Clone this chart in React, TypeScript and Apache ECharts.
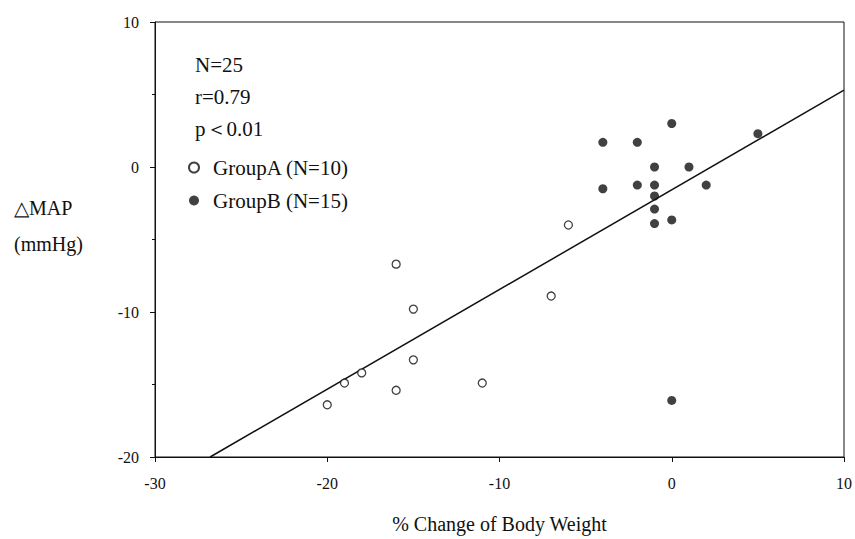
import React, { useEffect, useRef } from "react";
import * as echarts from "echarts";

const groupAX = [-16, -15, -7, -15, -18, -19, -16, -11, -20, -6];
const groupAY = [-6.7, -9.8, -8.9, -13.3, -14.2, -14.9, -15.4, -14.9, -16.4, -4.0];
const groupBX = [0, -4, -2, 5, -1, 1, -4, -2, -1, 2, -1, -1, 0, -1, 0];
const groupBY = [3.0, 1.7, 1.7, 2.3, 0, 0, -1.5, -1.25, -1.25, -1.25, -2.0, -2.9, -3.65, -3.9, -16.1];
const fitX = [-26.8, 10];
const fitY = [-20, 5.3];
const statLines = ["N=25", "r=0.79", "p＜0.01"];
const seriesNames = ["GroupA (N=10)", "GroupB (N=15)"];
const yNameLines = ["△MAP", "(mmHg)"];
const xName = "% Change of Body Weight";

const FONT = "Liberation Serif";
const INK = "#111";

export default function App() {
  const ref = useRef<HTMLDivElement>(null);
  useEffect(() => {
    if (!ref.current) return;
    const chart = echarts.init(ref.current, undefined, { renderer: "svg" });
    const zip = (xs: number[], ys: number[]) => xs.map((x, i) => [x, ys[i]]);
    chart.setOption({
      animation: false,
      backgroundColor: "#fff",
      textStyle: { fontFamily: FONT },
      grid: {
        left: 155,
        right: 9,
        top: 22,
        bottom: 77,
        show: true,
        borderColor: INK,
        borderWidth: 1,
      },
      legend: {
        orient: "vertical",
        left: 183,
        top: 152,
        itemWidth: 10,
        itemHeight: 10,
        itemGap: 12,
        icon: "circle",
        data: seriesNames,
        textStyle: { fontFamily: FONT, fontSize: 21, color: INK, padding: [0, 0, 0, 9] },
      },
      xAxis: {
        type: "value",
        min: -30,
        max: 10,
        interval: 10,
        name: xName,
        nameLocation: "middle",
        nameGap: 57,
        nameTextStyle: { fontFamily: FONT, fontSize: 20, color: INK },
        axisLine: { show: true, onZero: false, lineStyle: { color: INK, width: 1 } },
        axisTick: { show: true, inside: false, length: 5, lineStyle: { color: INK } },
        axisLabel: { fontFamily: FONT, fontSize: 16, color: INK, margin: 18 },
        splitLine: { show: false },
      },
      yAxis: {
        type: "value",
        min: -20,
        max: 10,
        interval: 10,
        axisLine: { show: true, onZero: false, lineStyle: { color: INK, width: 1 } },
        axisTick: { show: true, inside: false, length: 5, lineStyle: { color: INK } },
        minorTick: { show: true, splitNumber: 2, length: 3, lineStyle: { color: INK } },
        axisLabel: { fontFamily: FONT, fontSize: 16, color: INK, margin: 16 },
        splitLine: { show: false },
      },
      graphic: [
        ...statLines.map((t, i) => ({
          type: "text",
          left: 195,
          top: 54 + i * 32,
          style: { text: t, fontFamily: FONT, fontSize: 21, fill: INK },
        })),
        ...yNameLines.map((t, i) => ({
          type: "text",
          left: 14,
          top: 198 + i * 36,
          style: { text: t, fontFamily: FONT, fontSize: 20, fill: INK },
        })),
      ],
      series: [
        {
          name: "fit",
          type: "line",
          data: zip(fitX, fitY),
          symbol: "none",
          lineStyle: { color: INK, width: 1.5 },
          silent: true,
          z: 1,
        },
        {
          name: seriesNames[0],
          type: "scatter",
          data: zip(groupAX, groupAY),
          symbol: "circle",
          symbolSize: 8,
          itemStyle: { color: "#fff", borderColor: INK, borderWidth: 1.3 },
          z: 3,
        },
        {
          name: seriesNames[1],
          type: "scatter",
          data: zip(groupBX, groupBY),
          symbol: "circle",
          symbolSize: 9,
          itemStyle: { color: INK },
          z: 3,
        },
      ],
    });
    return () => chart.dispose();
  }, []);
  return <div ref={ref} style={{ width: 855, height: 539, position: "absolute", left: 0, top: 0 }} />;
}
